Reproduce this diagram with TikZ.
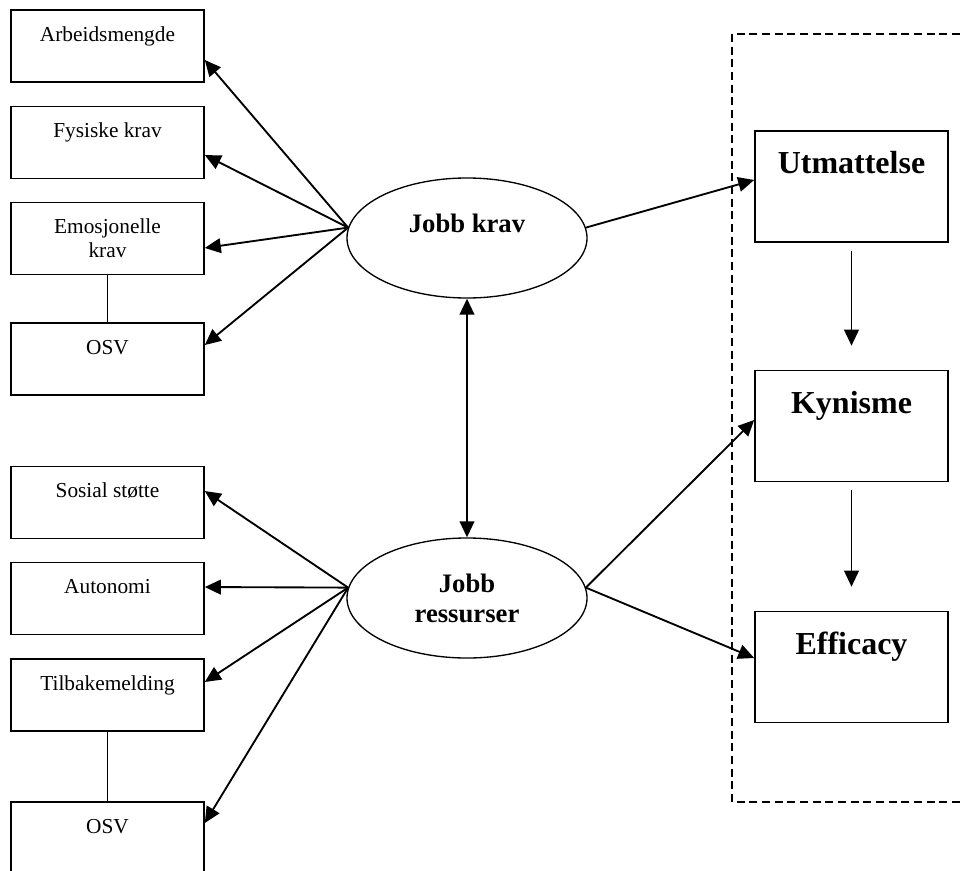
\documentclass[tikz,border=0pt]{standalone}
\usepackage{fontspec}
\setmainfont{Liberation Serif}
\usetikzlibrary{shapes.geometric,arrows.meta}

\tikzset{
  faktor/.style={draw, line width=1.2pt, inner sep=0pt, minimum width=144.75pt, minimum height=54pt, align=center, font=\fontsize{16}{18}\selectfont},
  utfall/.style={draw, line width=1.2pt, inner sep=0pt, minimum width=144.75pt, minimum height=83.25pt, align=center, font=\fontsize{24}{36}\selectfont\bfseries},
  latent/.style={draw, ellipse, line width=1pt, inner sep=0pt, minimum width=180pt, minimum height=90pt, align=center, font=\fontsize{20}{22.5}\selectfont\bfseries},
  pil/.style={-{Triangle[length=12pt, width=11pt]}, line width=1.4pt},
  dobbelpil/.style={{Triangle[length=12pt, width=11pt]}-{Triangle[length=12pt, width=11pt]}, line width=1.4pt},
}

\begin{document}
\begin{tikzpicture}[x=0.75pt, y=-0.75pt]

\useasboundingbox (0,0) rectangle (964,871);
\clip (0,0) rectangle (964,871);

% Krav (left, top)
\node[faktor] (arb) at (107.5, 46) {Arbeidsmengde\\~};
\node[faktor] (fys) at (107.5, 142.5) {Fysiske krav\\~};
\node[faktor] (emo) at (107.5, 238.5) {Emosjonelle\\krav};
\node[faktor] (osv1) at (107.5, 359) {OSV\\~};

% Ressurser (left, bottom)
\node[faktor] (sos) at (107.5, 502.5) {Sosial støtte\\~};
\node[faktor] (aut) at (107.5, 598.5) {Autonomi\\~};
\node[faktor] (tilb) at (107.5, 695) {Tilbakemelding\\~};
\node[faktor] (osv2) at (107.5, 838) {OSV\\~};

% Ellipses
\node[latent] (krav) at (467, 238) {Jobb krav\\~};
\node[latent] (ress) at (467, 598) {Jobb\\ressurser};

% Burnout (right)
\draw[dashed, dash pattern=on 6pt off 3.5pt, line width=1pt] (732, 34) rectangle (990, 802);
\node[utfall] (utm) at (851.5, 186.5) {Utmattelse\\~};
\node[utfall] (kyn) at (851.5, 426) {Kynisme\\~};
\node[utfall] (eff) at (851.5, 667) {Efficacy\\~};

% Arrows from Jobb krav
\draw[pil] (krav.175) -- ([yshift=-10.5pt]arb.east);
\draw[pil] (krav.175) -- ([yshift=-9.4pt]fys.east);
\draw[pil] (krav.175) -- ([yshift=-7.1pt]emo.east);
\draw[pil] (krav.175) -- ([yshift=10.5pt]osv1.east);
\draw[line width=1.3pt] (emo.south) -- (osv1.north);

% Arrows from Jobb ressurser
\draw[pil] (ress.175) -- ([yshift=8.6pt]sos.east);
\draw[pil] (ress.175) -- ([yshift=8.6pt]aut.east);
\draw[pil] (ress.175) -- ([yshift=9.75pt]tilb.east);
\draw[pil] (ress.175) -- ([yshift=11.25pt]osv2.east);
\draw[line width=1.3pt] (tilb.south) -- (osv2.north);

% Between the ellipses
\draw[dobbelpil] (krav.south) -- (ress.north);

% To the right
\draw[pil] (krav.5) -- ([yshift=4.9pt]utm.west);
\draw[pil] (ress.5) -- ([yshift=4.5pt]kyn.west);
\draw[pil] (ress.5) -- ([yshift=6.75pt]eff.west);
\draw[pil, shorten <=6pt, shorten >=18pt] (utm.south) -- (kyn.north);
\draw[pil, shorten <=6pt, shorten >=18pt] (kyn.south) -- (eff.north);

\end{tikzpicture}
\end{document}
